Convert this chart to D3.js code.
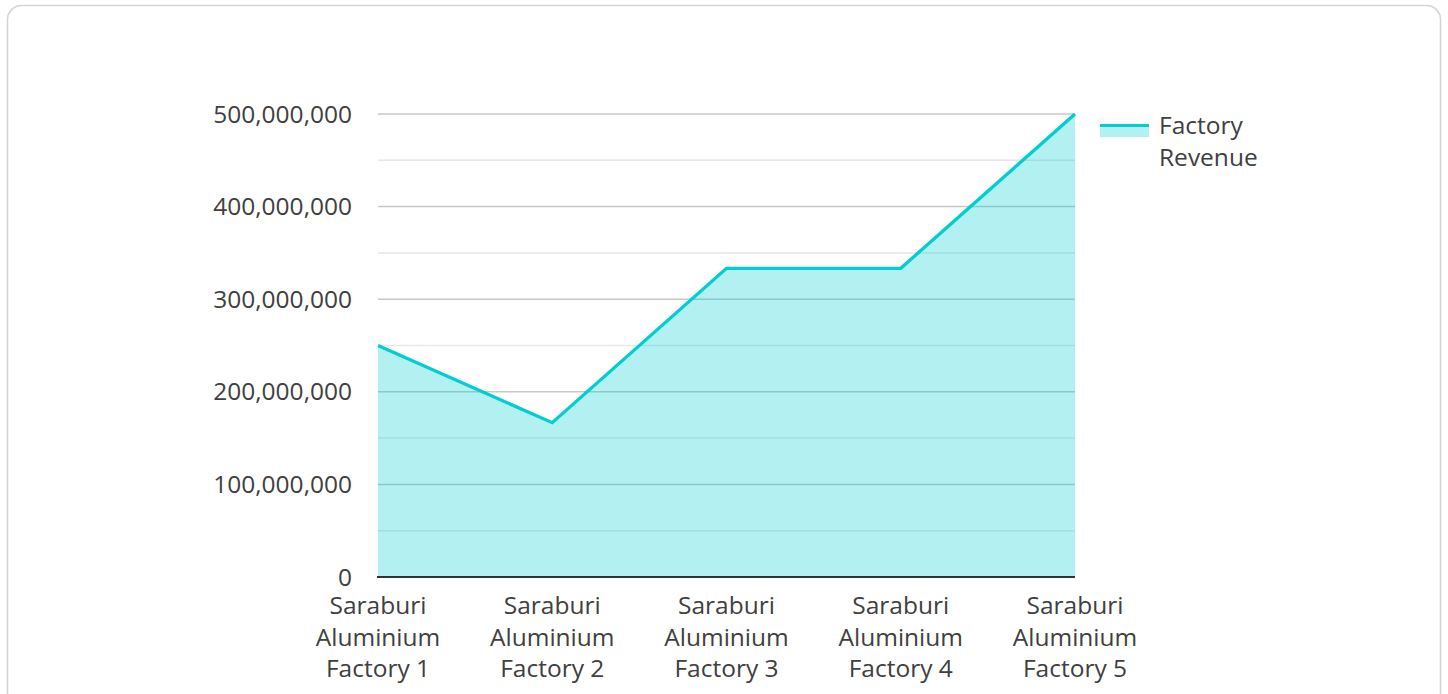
<!DOCTYPE html>
<html><head><meta charset="utf-8">
<script src="https://cdn.jsdelivr.net/npm/d3@7"></script>
<style>
html,body{margin:0;padding:0;background:#fff;}
svg{display:block;font-family:"Open Sans","Noto Sans",sans-serif;}
</style></head>
<body><svg id="c" width="1448" height="694"></svg>
<script>
const categories = [
  ["Saraburi","Aluminium","Factory 1"],
  ["Saraburi","Aluminium","Factory 2"],
  ["Saraburi","Aluminium","Factory 3"],
  ["Saraburi","Aluminium","Factory 4"],
  ["Saraburi","Aluminium","Factory 5"]
];
const revenue = [250000000, 166666667, 333333333, 333333333, 500000000];
const majorTicks = [0, 100000000, 200000000, 300000000, 400000000, 500000000];
const minorTicks = [50000000, 150000000, 250000000, 350000000, 450000000];
const seriesName = ["Factory", "Revenue"];

const svg = d3.select("#c");
const color = "#00CED1";
const textColor = "#404040";
const fs = 24.5;

svg.append("rect").attr("x",7.5).attr("y",5.5).attr("width",1433).attr("height",720)
  .attr("rx",14).attr("fill","#fff").attr("stroke","#d4d4d4").attr("stroke-width",1.5);

const x = d3.scalePoint().domain(d3.range(categories.length)).range([378,1075]);
const y = d3.scaleLinear().domain([0,500000000]).range([577,114]);

const g = svg.append("g");
g.selectAll(".minor").data(minorTicks).join("line")
  .attr("x1",378).attr("x2",1075).attr("y1",d=>y(d)).attr("y2",d=>y(d))
  .attr("stroke","#e6e6e6").attr("stroke-width",1.5);
g.selectAll(".major").data(majorTicks.filter(d=>d>0)).join("line")
  .attr("x1",378).attr("x2",1075).attr("y1",d=>y(d)).attr("y2",d=>y(d))
  .attr("stroke","#c8c8c8").attr("stroke-width",1.5);

const area = d3.area().x((d,i)=>x(i)).y0(y(0)).y1(d=>y(d));
g.append("path").datum(revenue).attr("d",area).attr("fill",color).attr("fill-opacity",0.3);
const line = d3.line().x((d,i)=>x(i)).y(d=>y(d));
g.append("path").datum(revenue).attr("d",line).attr("fill","none")
  .attr("stroke",color).attr("stroke-width",3.3).attr("stroke-linejoin","miter");

g.append("line").attr("x1",377).attr("x2",1075).attr("y1",y(0)).attr("y2",y(0))
  .attr("stroke","#333").attr("stroke-width",2);

const fmt = d3.format(",");
g.selectAll(".yl").data(majorTicks).join("text")
  .attr("x",352).attr("y",d=>y(d)).attr("dy","0.35em").attr("text-anchor","end")
  .attr("font-size",fs).attr("fill",textColor).text(d=>fmt(d));

const xl = g.selectAll(".xl").data(categories).join("text")
  .attr("text-anchor","middle").attr("font-size",fs).attr("fill",textColor);
xl.each(function(lines,i){
  const t = d3.select(this);
  lines.forEach((s,k)=>t.append("tspan").attr("x",x(i)).attr("y",614+k*31.7).text(s));
});

const lg = svg.append("g");
lg.append("rect").attr("x",1100).attr("y",125).attr("width",49).attr("height",12)
  .attr("fill",color).attr("fill-opacity",0.3);
lg.append("line").attr("x1",1100).attr("x2",1149).attr("y1",125.5).attr("y2",125.5)
  .attr("stroke",color).attr("stroke-width",3);
lg.selectAll("text").data(seriesName).join("text")
  .attr("x",1159).attr("y",(d,i)=>134+i*31.5).attr("font-size",fs).attr("fill",textColor).text(d=>d);
</script></body></html>
